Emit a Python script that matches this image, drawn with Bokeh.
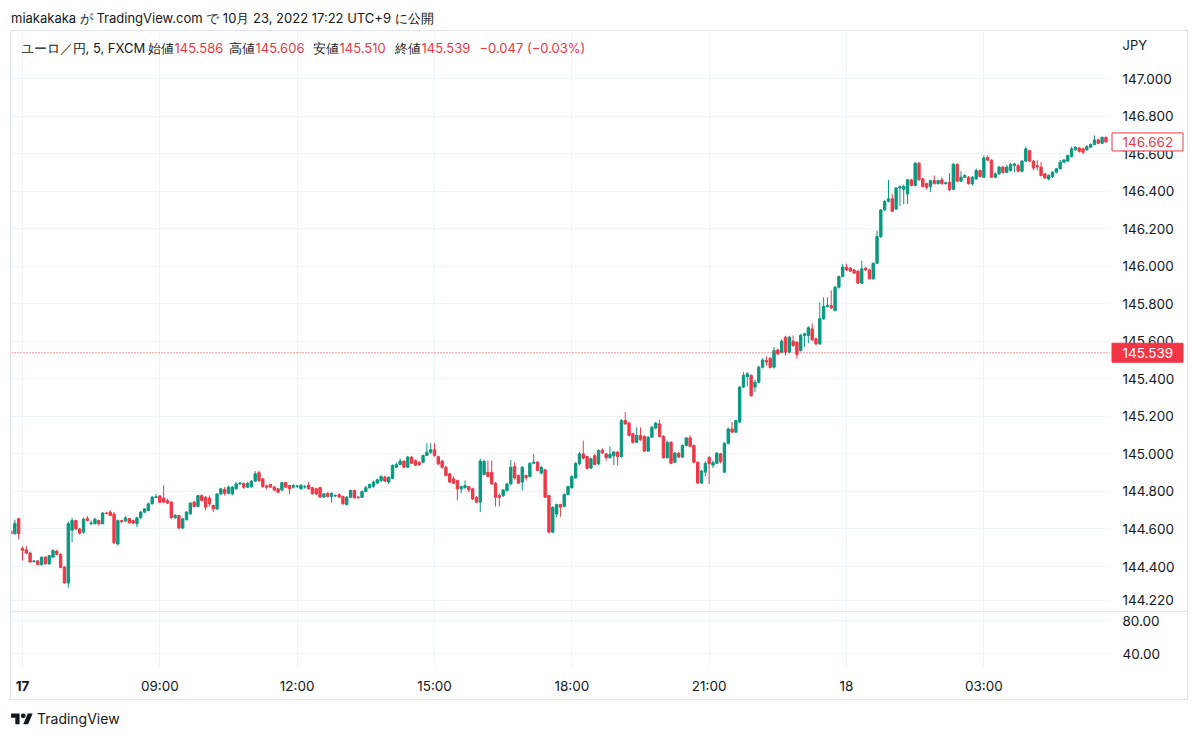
import numpy as np
from bokeh.plotting import figure
from bokeh.models import Range1d, FixedTicker, Span, Label, Div, ColumnDataSource, NumeralTickFormatter
from bokeh.core.properties import value
from bokeh.layouts import column, row
from bokeh.embed import file_html
from bokeh.resources import INLINE

# ---------------- data: EUR/JPY 5-minute candles (first bar index = -3) ----------------
opens = [
    144.588, 144.575, 144.655, 144.497, 144.489, 144.472, 144.426, 144.430, 144.410, 144.450,
    144.414, 144.450, 144.482, 144.465, 144.397, 144.312, 144.593, 144.645, 144.600, 144.583,
    144.655, 144.628, 144.628, 144.645, 144.628, 144.685, 144.690, 144.680, 144.520, 144.645,
    144.642, 144.655, 144.645, 144.628, 144.660, 144.690, 144.699, 144.734, 144.768, 144.776,
    144.765, 144.752, 144.743, 144.660, 144.672, 144.605, 144.650, 144.681, 144.743, 144.720,
    144.778, 144.769, 144.765, 144.725, 144.707, 144.787, 144.810, 144.790, 144.787, 144.814,
    144.840, 144.842, 144.823, 144.825, 144.855, 144.900, 144.867, 144.830, 144.837, 144.823,
    144.814, 144.808, 144.848, 144.832, 144.823, 144.828, 144.814, 144.823, 144.832, 144.820,
    144.814, 144.820, 144.770, 144.790, 144.773, 144.777, 144.783, 144.773, 144.730, 144.769,
    144.805, 144.770, 144.769, 144.800, 144.820, 144.828, 144.845, 144.858, 144.876, 144.850,
    144.870, 144.929, 144.943, 144.962, 144.929, 144.983, 144.965, 144.955, 144.956, 144.992,
    145.009, 145.022, 144.985, 144.962, 144.929, 144.894, 144.867, 144.858, 144.814, 144.820,
    144.826, 144.814, 144.769, 144.743, 144.890, 144.902, 144.902, 144.844, 144.778, 144.778,
    144.805, 144.840, 144.932, 144.885, 144.850, 144.885, 144.880, 144.950, 144.956, 144.898,
    144.915, 144.778, 144.583, 144.680, 144.730, 144.720, 144.783, 144.820, 144.872, 144.947,
    145.000, 144.986, 144.924, 144.990, 144.947, 145.020, 145.000, 144.980, 144.990, 145.010,
    144.986, 145.178, 145.164, 145.107, 145.062, 145.098, 145.093, 145.015, 145.089, 145.138,
    145.160, 145.093, 144.980, 145.062, 144.956, 145.004, 144.983, 145.045, 145.085, 145.045,
    144.956, 144.845, 144.903, 144.980, 144.940, 144.950, 145.000, 144.903, 145.057, 145.133,
    145.116, 145.170, 145.356, 145.412, 145.418, 145.356, 145.382, 145.462, 145.498, 145.510,
    145.462, 145.554, 145.542, 145.622, 145.542, 145.601, 145.595, 145.551, 145.631, 145.631,
    145.666, 145.613, 145.586, 145.720, 145.785, 145.790, 145.764, 145.888, 145.945, 145.995,
    145.990, 145.980, 145.974, 145.910, 145.990, 145.980, 145.933, 146.016, 146.158, 146.300,
    146.346, 146.359, 146.305, 146.417, 146.410, 146.385, 146.460, 146.430, 146.549, 146.465,
    146.440, 146.424, 146.456, 146.440, 146.460, 146.440, 146.448, 146.410, 146.542, 146.453,
    146.474, 146.474, 146.439, 146.465, 146.510, 146.474, 146.580, 146.565, 146.474, 146.492,
    146.528, 146.500, 146.510, 146.536, 146.536, 146.506, 146.560, 146.616, 146.560, 146.536,
    146.528, 146.492, 146.465, 146.478, 146.501, 146.519, 146.554, 146.560, 146.584, 146.620,
    146.630, 146.625, 146.620, 146.634, 146.648, 146.673, 146.655, 146.687,
]
highs = [
    144.595, 144.650, 144.660, 144.507, 144.510, 144.480, 144.432, 144.432, 144.452, 144.455,
    144.460, 144.492, 144.490, 144.470, 144.400, 144.640, 144.660, 144.650, 144.605, 144.660,
    144.670, 144.645, 144.660, 144.650, 144.690, 144.690, 144.700, 144.690, 144.650, 144.650,
    144.668, 144.660, 144.650, 144.665, 144.695, 144.712, 144.740, 144.775, 144.787, 144.780,
    144.832, 144.760, 144.748, 144.680, 144.675, 144.660, 144.695, 144.742, 144.750, 144.782,
    144.785, 144.775, 144.778, 144.730, 144.790, 144.820, 144.823, 144.832, 144.830, 144.850,
    144.850, 144.848, 144.850, 144.860, 144.909, 144.910, 144.870, 144.835, 144.840, 144.830,
    144.820, 144.850, 144.850, 144.835, 144.840, 144.835, 144.840, 144.835, 144.850, 144.825,
    144.820, 144.825, 144.790, 144.795, 144.795, 144.785, 144.790, 144.778, 144.775, 144.810,
    144.810, 144.775, 144.805, 144.830, 144.842, 144.858, 144.868, 144.885, 144.885, 144.880,
    144.945, 144.955, 144.975, 144.965, 144.990, 144.990, 144.970, 144.960, 144.995, 145.057,
    145.057, 145.057, 144.990, 144.968, 144.935, 144.900, 144.880, 144.862, 144.830, 144.858,
    144.830, 144.820, 144.775, 144.975, 144.970, 144.965, 144.965, 144.850, 144.790, 144.812,
    144.845, 144.968, 144.955, 144.890, 144.935, 144.890, 144.955, 145.000, 144.962, 144.935,
    144.920, 144.782, 144.720, 144.735, 144.735, 144.790, 144.830, 144.885, 144.955, 145.010,
    145.071, 144.990, 144.980, 145.000, 145.025, 145.030, 145.006, 145.040, 145.015, 145.015,
    145.185, 145.222, 145.170, 145.112, 145.142, 145.140, 145.100, 145.095, 145.150, 145.170,
    145.182, 145.100, 145.070, 145.068, 145.010, 145.010, 145.050, 145.090, 145.098, 145.050,
    144.960, 144.915, 144.960, 144.990, 144.965, 145.010, 145.006, 145.062, 145.140, 145.170,
    145.182, 145.360, 145.435, 145.435, 145.425, 145.395, 145.470, 145.510, 145.520, 145.515,
    145.570, 145.560, 145.610, 145.630, 145.630, 145.631, 145.600, 145.640, 145.645, 145.680,
    145.696, 145.620, 145.808, 145.835, 145.835, 145.871, 145.895, 145.950, 146.013, 146.013,
    145.996, 145.985, 145.980, 146.030, 145.995, 145.985, 146.020, 146.190, 146.305, 146.350,
    146.460, 146.385, 146.422, 146.430, 146.435, 146.465, 146.465, 146.555, 146.555, 146.470,
    146.445, 146.460, 146.483, 146.460, 146.474, 146.450, 146.496, 146.550, 146.548, 146.506,
    146.490, 146.480, 146.480, 146.520, 146.515, 146.590, 146.590, 146.570, 146.500, 146.535,
    146.535, 146.540, 146.550, 146.550, 146.545, 146.565, 146.637, 146.620, 146.565, 146.565,
    146.555, 146.495, 146.490, 146.505, 146.524, 146.566, 146.570, 146.595, 146.637, 146.640,
    146.635, 146.630, 146.645, 146.655, 146.697, 146.680, 146.690, 146.690,
]
lows = [
    144.570, 144.570, 144.545, 144.432, 144.465, 144.420, 144.422, 144.408, 144.405, 144.410,
    144.410, 144.448, 144.460, 144.390, 144.310, 144.287, 144.530, 144.595, 144.570, 144.575,
    144.640, 144.620, 144.625, 144.620, 144.625, 144.678, 144.668, 144.520, 144.512, 144.630,
    144.638, 144.628, 144.625, 144.610, 144.655, 144.685, 144.695, 144.730, 144.765, 144.738,
    144.740, 144.734, 144.655, 144.655, 144.600, 144.600, 144.645, 144.676, 144.715, 144.715,
    144.748, 144.700, 144.720, 144.690, 144.700, 144.780, 144.778, 144.785, 144.780, 144.810,
    144.835, 144.814, 144.820, 144.820, 144.850, 144.850, 144.820, 144.812, 144.820, 144.800,
    144.790, 144.800, 144.820, 144.787, 144.815, 144.820, 144.810, 144.815, 144.810, 144.785,
    144.780, 144.765, 144.765, 144.770, 144.740, 144.770, 144.765, 144.730, 144.725, 144.765,
    144.762, 144.760, 144.765, 144.795, 144.815, 144.820, 144.840, 144.850, 144.850, 144.840,
    144.865, 144.925, 144.940, 144.925, 144.925, 144.945, 144.935, 144.938, 144.950, 144.988,
    145.000, 144.985, 144.940, 144.920, 144.880, 144.845, 144.840, 144.752, 144.790, 144.815,
    144.796, 144.755, 144.738, 144.690, 144.885, 144.875, 144.835, 144.720, 144.720, 144.770,
    144.800, 144.835, 144.865, 144.840, 144.805, 144.858, 144.875, 144.945, 144.908, 144.890,
    144.765, 144.578, 144.578, 144.663, 144.665, 144.715, 144.780, 144.815, 144.868, 144.940,
    144.970, 144.915, 144.920, 144.940, 144.940, 145.000, 144.965, 144.975, 144.940, 144.938,
    144.980, 145.155, 145.094, 145.055, 145.058, 145.070, 145.010, 145.010, 145.085, 145.130,
    145.088, 144.975, 144.975, 144.945, 144.950, 144.978, 144.978, 145.040, 145.035, 144.950,
    144.840, 144.840, 144.880, 144.840, 144.925, 144.945, 144.950, 144.898, 145.050, 145.110,
    145.110, 145.165, 145.350, 145.360, 145.305, 145.330, 145.375, 145.455, 145.470, 145.455,
    145.455, 145.525, 145.535, 145.524, 145.535, 145.570, 145.507, 145.545, 145.570, 145.590,
    145.600, 145.580, 145.580, 145.715, 145.780, 145.770, 145.760, 145.880, 145.940, 145.975,
    145.970, 145.958, 145.905, 145.905, 145.975, 145.928, 145.928, 146.010, 146.150, 146.295,
    146.340, 146.288, 146.300, 146.320, 146.330, 146.330, 146.425, 146.425, 146.455, 146.420,
    146.410, 146.395, 146.435, 146.435, 146.435, 146.435, 146.400, 146.405, 146.448, 146.448,
    146.470, 146.435, 146.430, 146.460, 146.474, 146.470, 146.560, 146.470, 146.470, 146.487,
    146.495, 146.495, 146.505, 146.500, 146.500, 146.500, 146.555, 146.555, 146.510, 146.510,
    146.478, 146.465, 146.458, 146.470, 146.495, 146.515, 146.550, 146.555, 146.580, 146.615,
    146.605, 146.600, 146.615, 146.630, 146.644, 146.650, 146.650, 146.660,
]
closes = [
    144.575, 144.630, 144.575, 144.485, 144.472, 144.424, 144.430, 144.410, 144.450, 144.414,
    144.458, 144.485, 144.465, 144.395, 144.312, 144.628, 144.645, 144.600, 144.578, 144.652,
    144.645, 144.632, 144.652, 144.628, 144.685, 144.683, 144.672, 144.527, 144.645, 144.640,
    144.660, 144.633, 144.632, 144.660, 144.690, 144.707, 144.734, 144.770, 144.772, 144.742,
    144.743, 144.738, 144.660, 144.672, 144.605, 144.654, 144.690, 144.738, 144.720, 144.778,
    144.752, 144.716, 144.734, 144.707, 144.787, 144.814, 144.790, 144.823, 144.823, 144.840,
    144.845, 144.823, 144.843, 144.855, 144.894, 144.858, 144.826, 144.822, 144.823, 144.808,
    144.796, 144.847, 144.823, 144.814, 144.832, 144.830, 144.832, 144.826, 144.814, 144.787,
    144.787, 144.770, 144.787, 144.773, 144.790, 144.778, 144.770, 144.734, 144.769, 144.805,
    144.766, 144.767, 144.800, 144.820, 144.837, 144.850, 144.862, 144.880, 144.855, 144.876,
    144.938, 144.943, 144.962, 144.929, 144.983, 144.950, 144.940, 144.943, 144.992, 145.009,
    145.022, 144.992, 144.947, 144.929, 144.885, 144.850, 144.844, 144.814, 144.826, 144.832,
    144.808, 144.760, 144.743, 144.962, 144.960, 144.880, 144.840, 144.769, 144.769, 144.808,
    144.840, 144.929, 144.872, 144.844, 144.929, 144.873, 144.950, 144.956, 144.912, 144.929,
    144.769, 144.583, 144.716, 144.730, 144.716, 144.783, 144.826, 144.880, 144.950, 145.000,
    144.977, 144.924, 144.975, 144.944, 145.018, 145.005, 144.980, 144.997, 145.010, 144.986,
    145.178, 145.160, 145.098, 145.062, 145.098, 145.075, 145.015, 145.089, 145.142, 145.164,
    145.093, 144.980, 145.062, 144.950, 145.004, 144.983, 145.045, 145.085, 145.040, 144.956,
    144.845, 144.908, 144.950, 144.947, 144.955, 145.004, 144.958, 145.057, 145.133, 145.116,
    145.178, 145.356, 145.418, 145.427, 145.310, 145.382, 145.462, 145.500, 145.490, 145.460,
    145.550, 145.533, 145.601, 145.542, 145.622, 145.577, 145.530, 145.631, 145.640, 145.672,
    145.608, 145.586, 145.720, 145.785, 145.790, 145.778, 145.888, 145.945, 145.995, 145.980,
    145.974, 145.963, 145.910, 145.986, 145.980, 145.933, 146.016, 146.158, 146.300, 146.346,
    146.359, 146.293, 146.417, 146.424, 146.425, 146.460, 146.430, 146.549, 146.460, 146.424,
    146.420, 146.456, 146.440, 146.456, 146.440, 146.445, 146.407, 146.542, 146.453, 146.474,
    146.483, 146.439, 146.474, 146.510, 146.478, 146.577, 146.565, 146.474, 146.492, 146.528,
    146.500, 146.528, 146.542, 146.545, 146.506, 146.560, 146.625, 146.560, 146.524, 146.530,
    146.483, 146.470, 146.483, 146.501, 146.519, 146.554, 146.566, 146.590, 146.625, 146.634,
    146.612, 146.607, 146.637, 146.648, 146.673, 146.655, 146.687, 146.662,
]
first_bar = -3                      # three Friday bars before Monday 06:00 JST
price_ticks = [144.22, 144.4, 144.6, 144.8, 145.0, 145.2, 145.4, 145.6, 145.8, 146.0,
               146.2, 146.4, 146.6, 146.8, 147.0]
pane2_ticks = [40, 80]
time_hours = [6, 9, 12, 15, 18, 21, 24, 27]          # hours after 00:00 on the 17th
time_labels = ["17", "09:00", "12:00", "15:00", "18:00", "21:00", "18", "03:00"]
day_label_flags = [True, False, False, False, False, False, False, False]
last_price = 146.662
line_price = 145.539
currency = "JPY"
title_text = "miakakaka が TradingView.com で 10月 23, 2022 17:22 UTC+9 に公開"
symbol_text = "ユーロ／円, 5, FXCM"
ohlc_names = ["始値", "高値", "安値", "終値"]
ohlc_values = ["145.586", "145.606", "145.510", "145.539"]
change_text = "−0.047 (−0.03%)"

# ---------------- styling ----------------
FONT = "Inter"
TXT = "#131722"
UP = "#089981"
DOWN = "#F23645"
GRID = "#f0f3fa"
BORDER = "#e0e3eb"
BARS_PER_HOUR = 12
AX_FS = "13.5px"

o = np.array(opens); c = np.array(closes)
bars = np.arange(first_bar, first_bar + len(opens))
colors = np.where(c >= o, UP, DOWN)
src = ColumnDataSource(dict(x=bars, o=o, h=np.array(highs), l=np.array(lows), c=c,
                            top=np.maximum(o, c), bottom=np.minimum(o, c), color=colors))
tick_bars = [(h - 6) * BARS_PER_HOUR for h in time_hours]

FRAME_W = 1099
AXIS_W = 77
X0, X1 = -2.88, 285.2
xr = Range1d(X0, X1)
yr = Range1d(144.1604, 147.2504)

def bare(fig):
    fig.outline_line_color = None
    fig.background_fill_color = "white"
    fig.border_fill_color = "white"
    fig.min_border_left = 0; fig.min_border_right = 0
    fig.min_border_top = 0; fig.min_border_bottom = 0
    return fig

# ---------------- main price pane ----------------
p = bare(figure(width=FRAME_W, height=580, x_range=xr, y_range=yr, output_backend="svg",
                toolbar_location=None, x_axis_location=None, y_axis_location=None))
p.xgrid.ticker = FixedTicker(ticks=tick_bars)
p.ygrid.ticker = FixedTicker(ticks=price_ticks)
p.xgrid.grid_line_color = GRID
p.ygrid.grid_line_color = GRID

p.segment(x0="x", y0="l", x1="x", y1="h", line_color="color", line_width=1, source=src)
p.vbar(x="x", width=0.62, top="top", bottom="bottom", fill_color="color",
       line_color="color", line_width=1, source=src)
p.add_layout(Span(location=line_price, dimension="width", line_color=DOWN,
                  line_dash="1 2", line_width=1))

leg_y = 147.16
def add_text(xb, text, color, align="left"):
    p.add_layout(Label(x=xb, y=leg_y, text=text, text_color=color, text_font=FONT,
                       text_font_size="13px", text_baseline="middle", text_align=align))

add_text(-0.52, symbol_text, TXT)
val_x = [39.84, 61.07, 83.09, 104.59]
for vx, nm, vv in zip(val_x, ohlc_names, ohlc_values):
    add_text(vx, nm, TXT, align="right")
    add_text(vx, vv, DOWN)
add_text(119.79, change_text, DOWN)

# ---------------- price scale (shares the y range) ----------------
pa = bare(figure(width=AXIS_W, height=580, x_range=Range1d(0, AXIS_W), y_range=yr,
                 output_backend="svg", toolbar_location=None,
                 x_axis_location=None, y_axis_location=None))
pa.grid.visible = False
pa.text(x=12, y=price_ticks, text=[f"{t:.3f}" for t in price_ticks], text_font=value(FONT),
        text_font_size=value(AX_FS), text_color=TXT, text_baseline="middle", text_align="left")
pa.text(x=12, y=[147.181], text=[currency], text_font=value(FONT), text_font_size=value("13px"),
        text_color=TXT, text_baseline="middle", text_align="left")
pa.rect(x=37, y=[last_price], width=71, height=18, height_units="screen",
        fill_color="white", line_color=DOWN, line_width=1)
pa.text(x=12, y=[last_price], text=[f"{last_price:.3f}"], text_font=value(FONT),
        text_font_size=value(AX_FS), text_color=DOWN, text_baseline="middle", text_align="left")
pa.rect(x=37, y=[line_price], width=71, height=19, height_units="screen",
        fill_color=DOWN, line_color=DOWN, line_width=1)
pa.text(x=12, y=[line_price], text=[f"{line_price:.3f}"], text_font=value(FONT),
        text_font_size=value(AX_FS), text_color="white", text_baseline="middle", text_align="left")

# ---------------- lower (indicator) pane ----------------
q = bare(figure(width=FRAME_W + AXIS_W, height=56, x_range=xr, y_range=Range1d(21.82, 89.70),
                output_backend="svg", toolbar_location=None, y_axis_location="right",
                x_axis_location=None))
q.min_border_right = AXIS_W
q.xgrid.ticker = FixedTicker(ticks=tick_bars)
q.ygrid.ticker = FixedTicker(ticks=pane2_ticks)
q.xgrid.grid_line_color = GRID
q.ygrid.grid_line_color = GRID
qa = q.yaxis[0]
qa.ticker = FixedTicker(ticks=pane2_ticks)
qa.formatter = NumeralTickFormatter(format="0.00")
qa.axis_line_color = None
qa.major_tick_line_color = None
qa.minor_tick_line_color = None
qa.major_tick_out = 0
qa.major_label_standoff = 12
qa.major_label_text_font = FONT
qa.major_label_text_font_size = AX_FS
qa.major_label_text_color = TXT

# ---------------- time scale (same bar spacing, frame aligned with the panes) ----------------
tx = bare(figure(width=FRAME_W + AXIS_W, height=31, x_range=xr, y_range=Range1d(0, 1),
                 output_backend="svg", toolbar_location=None,
                 x_axis_location=None, y_axis_location=None))
tx.min_border_right = AXIS_W
tx.grid.visible = False
norm_x = [b for b, d in zip(tick_bars, day_label_flags) if not d]
norm_t = [t for t, d in zip(time_labels, day_label_flags) if not d]
bold_x = [b for b, d in zip(tick_bars, day_label_flags) if d]
bold_t = [t for t, d in zip(time_labels, day_label_flags) if d]
tx.text(x=norm_x, y=0.43, text=norm_t, text_font=value(FONT), text_font_size=value(AX_FS),
        text_color=TXT, text_baseline="middle", text_align="center")
tx.text(x=bold_x, y=0.43, text=bold_t, text_font=value(FONT), text_font_size=value(AX_FS),
        text_font_style="bold", text_color=TXT, text_baseline="middle", text_align="center")

# ---------------- page ----------------
title_div = Div(text=f"<div style='font-family:Inter;font-size:13px;line-height:16px;"
                     f"color:{TXT};padding:2px 0 0 3px;white-space:nowrap'>{title_text}</div>",
                width=1184, height=22, margin=0)
sep = Div(text="", width=FRAME_W + AXIS_W, height=1, margin=0,
          styles={"background-color": BORDER, "overflow": "hidden"})
inner = column(row(p, pa, spacing=0), sep, q, tx, spacing=0, margin=(0, 0, 0, 2),
               styles={"border": f"1px solid {BORDER}"})
logo = ("<svg width='22' height='17' viewBox='0 0 36 28' style='display:block'>"
        "<path fill='#131722' d='M14 22H7V11H0V4h14v18zM28 22h-8l7.5-18h8L28 22z'/>"
        "<circle fill='#131722' cx='20' cy='8' r='4'/></svg>")
footer = Div(text=f"<div style='display:flex;align-items:center;gap:4px;padding:9px 0 0 3px;"
                  f"font-family:Inter;font-size:14px;color:{TXT}'>{logo}"
                  f"<span>TradingView</span></div>",
             width=1184, height=30, margin=0)
layout = column(title_div, inner, footer, spacing=0, margin=(8, 8, 0, 8))

open("out.html", "w").write(file_html(layout, INLINE))
